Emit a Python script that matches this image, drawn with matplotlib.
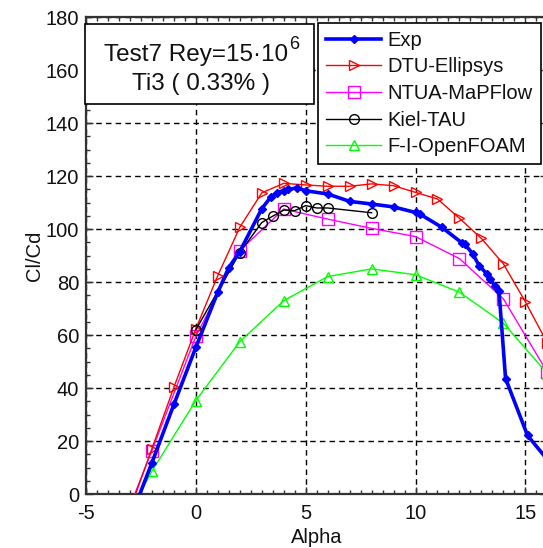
import matplotlib
matplotlib.use("Agg")
import matplotlib.pyplot as plt
from matplotlib.patches import Rectangle
from matplotlib.ticker import MultipleLocator

plt.rcParams['font.family'] = ['Liberation Sans', 'DejaVu Sans']
plt.rcParams['mathtext.fontset'] = 'custom'
plt.rcParams['mathtext.rm'] = 'Liberation Sans'
plt.rcParams['mathtext.it'] = 'Liberation Sans:italic'
plt.rcParams['axes.unicode_minus'] = False

# ---- data ----
exp_alpha = [-3, -2, -1, 0, 1, 1.5, 2, 3, 3.4, 3.7, 4, 4.2, 4.6, 5, 6, 7, 8, 9, 10,
             10.2, 11.2, 12.1, 12.25, 12.6, 12.9, 13.25, 13.4, 13.6, 13.8, 14.1, 15.1, 16]
exp_val = [-9.7, 11.8, 33.8, 55.4, 76.2, 85.5, 91.5, 107.7, 112.0, 113.8, 114.6, 115.0,
           115.6, 114.5, 113.3, 110.5, 109.5, 108.4, 106.3, 105.7, 100.7, 94.9, 94.3,
           90.7, 86.2, 83.1, 81.2, 78.7, 76.8, 43.6, 22.1, 13.0]

dtu_alpha = [-3, -2, -1, 0, 1, 2, 3, 4, 5, 6, 7, 8, 9, 10, 11, 12, 13, 14, 15, 16]
dtu_val = [-6.0, 17.1, 40.3, 62.3, 82.5, 100.7, 113.7, 117.3, 116.7, 116.2, 116.2, 117.1,
           116.4, 113.9, 111.4, 104.1, 96.5, 86.9, 72.6, 57.0]

ntua_alpha = [-3, -2, 0, 2, 4, 6, 8, 10, 12, 14, 16]
ntua_val = [-4.6, 16.4, 59.5, 91.9, 107.6, 103.8, 100.3, 97.2, 88.9, 73.7, 46.0]

kiel_alpha = [0, 2, 3, 3.5, 4, 4.5, 5, 5.5, 6, 8]
kiel_val = [62.0, 91.1, 102.5, 104.9, 107.2, 107.0, 108.9, 108.0, 108.0, 106.2]

foam_alpha = [-3, -2, 0, 2, 4, 6, 8, 10, 12, 14, 16]
foam_val = [-7.0, 8.6, 35.3, 57.5, 73.0, 82.1, 85.0, 82.8, 76.2, 64.5, 45.5]

labels = ["Exp", "DTU-Ellipsys", "NTUA-MaPFlow", "Kiel-TAU", "F-I-OpenFOAM"]
xticks = [-5, 0, 5, 10, 15]
yticks = [0, 20, 40, 60, 80, 100, 120, 140, 160, 180]

# ---- figure ----
W, H = 543, 548
fig = plt.figure(figsize=(W / 100, H / 100), dpi=100)
left_px, right_px, top_px, bot_px = 86, 547.3, 17.3, 494
ax = fig.add_axes([left_px / W, 1 - bot_px / H, (right_px - left_px) / W, (bot_px - top_px) / H])

ax.plot(exp_alpha, exp_val, color='#0000ff', lw=2.6, marker='D', ms=4.5,
        mfc='#0000ff', mec='#0000ff', label=labels[0], zorder=5)
ax.plot(dtu_alpha, dtu_val, color='#ff0000', lw=1.0, marker='>', ms=7,
        mfc='none', mec='#ff0000', label=labels[1], zorder=4)
ax.plot(ntua_alpha, ntua_val, color='#ff00ff', lw=1.0, marker='s', ms=8,
        mfc='none', mec='#ff00ff', label=labels[2], zorder=3)
ax.plot(kiel_alpha, kiel_val, color='#000000', lw=1.0, marker='o', ms=7,
        mfc='none', mec='#000000', label=labels[3], zorder=4)
ax.plot(foam_alpha, foam_val, color='#00ff00', lw=1.0, marker='^', ms=6.5,
        mfc='none', mec='#00ff00', label=labels[4], zorder=3)

ax.set_xlim(-5, 16)
ax.set_ylim(0, 180)
ax.set_xticks(xticks)
ax.set_yticks(yticks)
ax.xaxis.set_minor_locator(MultipleLocator(0.5))
ax.yaxis.set_minor_locator(MultipleLocator(5))
ax.tick_params(which='both', direction='in', top=True, right=True,
               colors='#333333', labelcolor='#111111', labelsize=14.5)
ax.tick_params(which='major', length=5, width=1)
ax.tick_params(which='minor', length=3, width=1)
ax.tick_params(axis='x', pad=7)
ax.tick_params(axis='y', pad=5)
ax.grid(True, which='major', color='black', linestyle=(0, (4, 3)), linewidth=1.0)
for s in ax.spines.values():
    s.set_color('#333333')
    s.set_linewidth(1.6)

ax.set_xlabel('Alpha', fontsize=14.5, color='#111111', labelpad=4)
ax.set_ylabel('Cl/Cd', fontsize=14.5, color='#111111', labelpad=1)

# info box
def ax_x(px):
    return (px - left_px) / (right_px - left_px)

def ax_y(py):
    return (bot_px - py) / (bot_px - top_px)

bx0, bx1, by0, by1 = 85, 314, 24, 104
rect = Rectangle((ax_x(bx0), ax_y(by1)), ax_x(bx1) - ax_x(bx0), ax_y(by0) - ax_y(by1),
                 transform=ax.transAxes, facecolor='white', edgecolor='black',
                 linewidth=1.2, zorder=10, clip_on=False)
ax.add_patch(rect)
ax.text(ax_x(288), ax_y(55), 'Test7 Rey=15\u00b710', transform=ax.transAxes,
        ha='right', va='center', fontsize=17.5, color='#111111', zorder=11)
ax.text(ax_x(289), ax_y(45), '6', transform=ax.transAxes,
        ha='left', va='center', fontsize=13, color='#111111', zorder=11)
ax.text(ax_x(201), ax_y(84), 'Ti3 ( 0.33% )', transform=ax.transAxes,
        ha='center', va='center', fontsize=17.5, color='#111111', zorder=11)

leg = ax.legend(loc='upper right', bbox_to_anchor=(541 / W, 1 - 22.7 / H),
                bbox_transform=fig.transFigure, fontsize=14.5, frameon=True,
                fancybox=False, edgecolor='black', framealpha=1, borderaxespad=0,
                handlelength=2.7, handletextpad=0.35, labelspacing=0.38,
                borderpad=0.4)
leg.get_frame().set_linewidth(1.2)
leg.set_zorder(12)
for t in leg.get_texts():
    t.set_color('#111111')

fig.savefig('out.png', dpi=100)
